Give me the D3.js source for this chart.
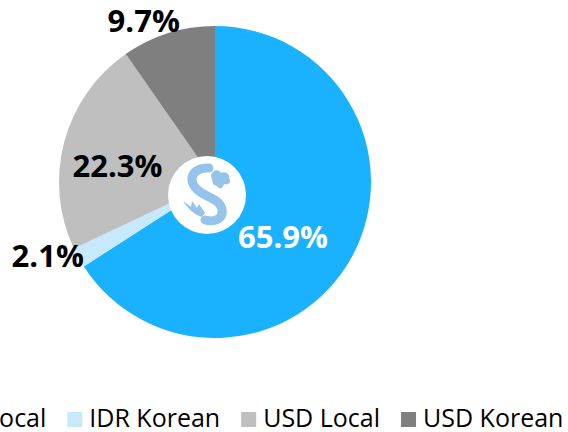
<!DOCTYPE html>
<html>
<head>
<meta charset="utf-8">
<script src="https://cdn.jsdelivr.net/npm/d3@7"></script>
<style>
  body { margin: 0; background: #fff; }
  svg { display: block; font-family: "Open Sans", "Noto Sans", sans-serif; }
</style>
</head>
<body>
<div id="chart"></div>
<script>
// data
const categories = ["IDR Local", "IDR Korean", "USD Local", "USD Korean"];
const shares = [65.9, 2.1, 22.3, 9.7];
const colors = ["#1AB2FF", "#C6EAFB", "#BFBFBF", "#7F7F7F"];

const width = 568, height = 432;
const cx = 215, cy = 182, radius = 156;

const svg = d3.select("#chart")
    .append("svg")
    .attr("width", width)
    .attr("height", height);

const pie = d3.pie().sort(null).value(d => d.v);
const arcs = pie(categories.map((c, i) => ({c: c, v: shares[i], i: i})));

const arc = d3.arc().innerRadius(0).outerRadius(radius);
const inLabel = d3.arc().innerRadius(radius * 0.62).outerRadius(radius * 0.62);
const outLabel = d3.arc().innerRadius(radius * 1.16).outerRadius(radius * 1.16);

const g = svg.append("g")
    .attr("transform", `translate(${cx},${cy})`);

g.selectAll("path.slice")
    .data(arcs)
    .enter()
    .append("path")
    .attr("class", "slice")
    .attr("d", arc)
    .attr("fill", d => colors[d.data.i]);

/* logo in the middle */
const logoColor = "#95C3EA";
const logo = svg.append("g").attr("transform", "translate(207,195)");
logo.append("circle").attr("r", 39).attr("fill", "#fff");
logo.append("path")
    .attr("d", "M2,-27 C-8,-28 -16,-22 -15,-15 C-14,-6 -6,-2 6,4 C14,8 16,14 15,19 C13,25 6,27 -2,25")
    .attr("fill", "none")
    .attr("stroke", logoColor)
    .attr("stroke-width", 9)
    .attr("stroke-linecap", "round");
// head top right
logo.append("path")
    .attr("d", "M4,-20 C6,-26 12,-26 14,-22 C17,-24 23,-22 22,-17 C25,-14 22,-9 17,-11 C16,-7 13,-5 11,-8 C9,-10 8,-9 6,-11 Z")
    .attr("fill", logoColor);
// flame bottom left
logo.append("path")
    .attr("d", "M-24,6 L-16,12 L-15,6 L-10,13 L-8,9 L-2,18 L-5,22 C-12,20 -19,14 -24,6 Z")
    .attr("fill", logoColor);

/* labels, nudged off the plain centroid */
const nudge = [[-17, 9], [-9, -14], [-4, 9], [-17, 12]];
const outside = [false, true, false, true];
g.selectAll("text.lbl")
    .data(arcs)
    .enter()
    .append("text")
    .attr("class", "lbl")
    .attr("transform", d => {
        const i = d.data.i;
        const p = outside[i] ? outLabel.centroid(d) : inLabel.centroid(d);
        return `translate(${p[0] + nudge[i][0]},${p[1] + nudge[i][1]})`;
    })
    .attr("text-anchor", "middle")
    .attr("dy", "0.35em")
    .attr("font-size", "31px")
    .attr("font-weight", "bold")
    .attr("fill", d => d.data.i === 0 ? "#fff" : "#000")
    .text(d => d3.format(".1f")(d.data.v) + "%");

/* legend */
const legend = svg.append("g").attr("transform", "translate(0,427)");
let x = -83;
categories.forEach((c, i) => {
    const item = legend.append("g").attr("transform", `translate(${x},0)`);
    item.append("rect")
        .attr("x", 0).attr("y", -15)
        .attr("width", 15).attr("height", 15)
        .attr("fill", colors[i]);
    const t = item.append("text")
        .attr("x", 22)
        .attr("font-size", "25px")
        .attr("fill", "#000")
        .text(c);
    x += 22 + t.node().getComputedTextLength() + 21;
});
</script>
</body>
</html>
